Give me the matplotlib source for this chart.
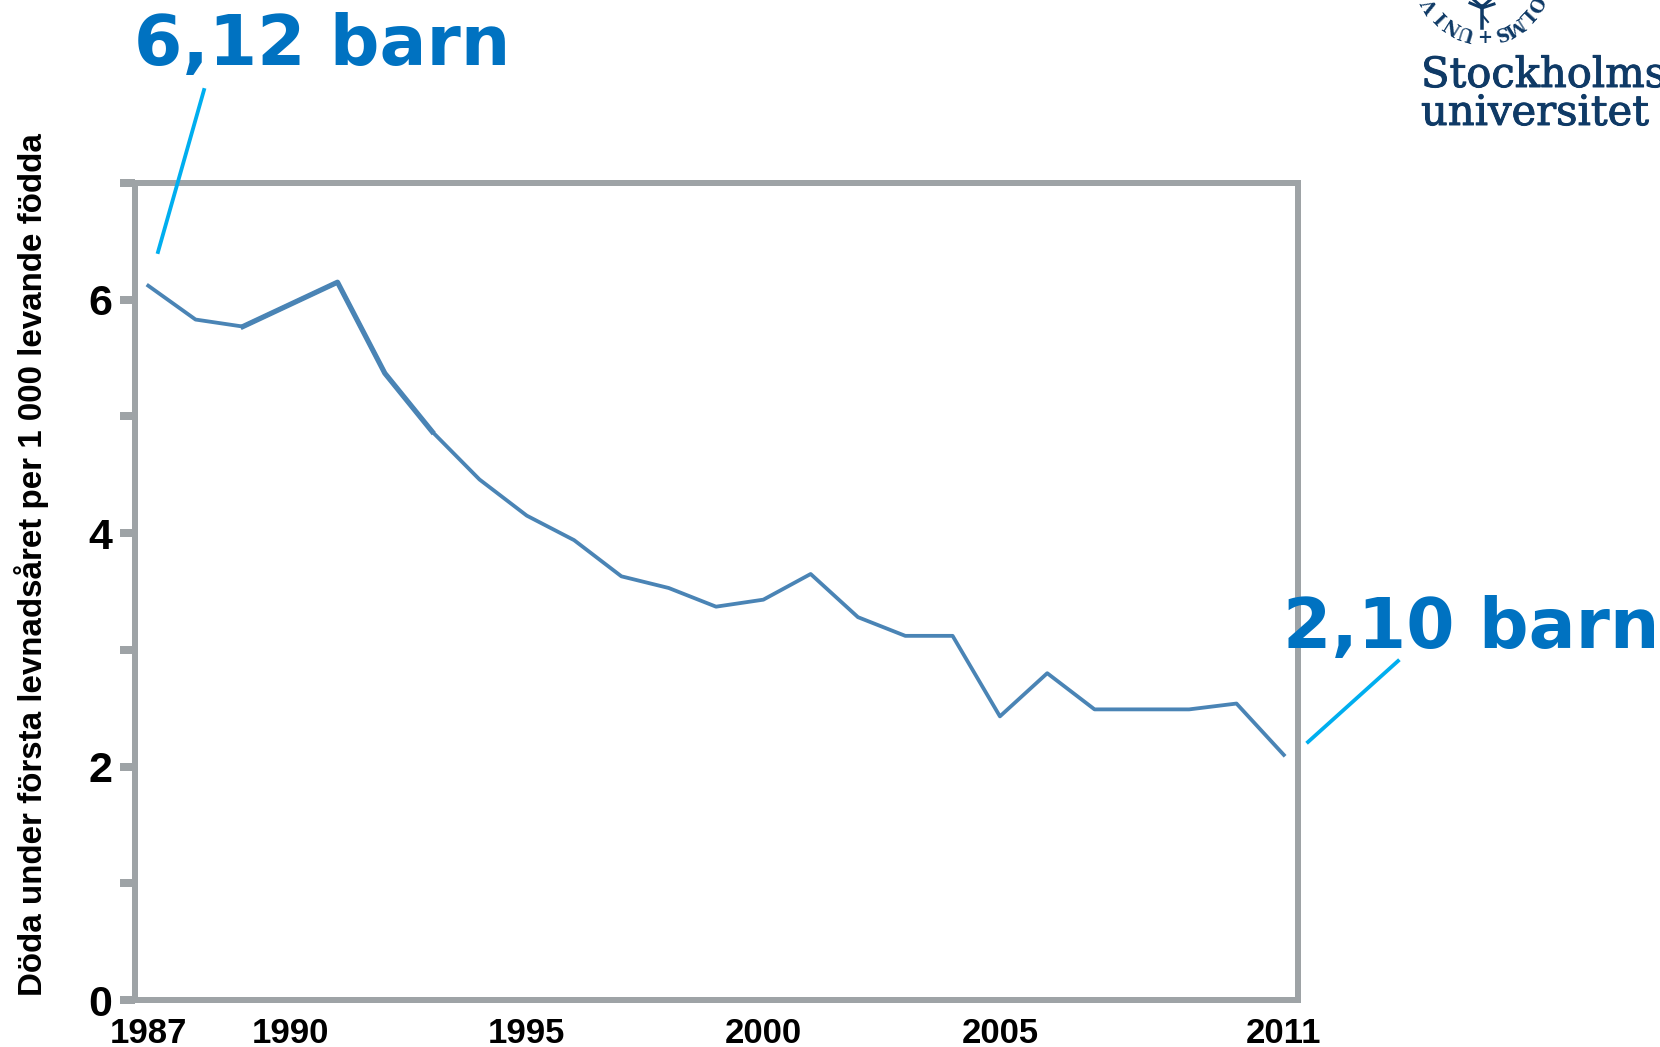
#!/usr/bin/env python3
# Spädbarnsdödlighet 1987-2011, Stockholms universitet
import numpy as np
import matplotlib
matplotlib.use("Agg")
import matplotlib.pyplot as plt
import matplotlib.patheffects as pe
from matplotlib.lines import Line2D

W, H = 1660, 1047

years = list(range(1987, 2012))
deaths = [6.12, 5.83, 5.77, 5.96, 6.15, 5.37, 4.87, 4.46, 4.15, 3.94, 3.63, 3.53, 3.37,
          3.43, 3.65, 3.28, 3.12, 3.12, 2.43, 2.80, 2.49, 2.49, 2.49, 2.54, 2.10]
xticks = [1987, 1990, 1995, 2000, 2005, 2011]
yticks = list(range(0, 8))
ylabels = ["0", "", "2", "", "4", "", "6", ""]
ylab = "Döda under första levnadsåret per 1 000 levande födda"
first_lab = "6,12 barn"
last_lab = "2,10 barn"

GREY = "#9ea3a6"
LINE = "#4a84b5"
CALL = "#0072c1"
CYAN = "#00aeef"
NAVY = "#0f3a66"

def fx(px): return px / W
def fy(py): return 1 - py / H   # py counted from top
def pt(px): return px * 0.72    # dpi 100

fig = plt.figure(figsize=(W / 100, H / 100), dpi=100)
ax = fig.add_axes([fx(135), fy(1000), fx(1298 - 135), (1000 - 183) / H])

ax.plot(years, deaths, color=LINE, lw=pt(3.8), solid_joinstyle="round")
ax.plot(years[2:7], deaths[2:7], color=LINE, lw=pt(5.2), solid_joinstyle="round")  # tjockare bit i originalet

ax.set_xlim(1986.72, 2011.3)
ax.set_ylim(0, 7)
ax.set_xticks(xticks)
ax.set_yticks(yticks, ylabels)
ax.tick_params(axis="x", length=0, pad=pt(17))
ax.tick_params(axis="y", length=pt(15), width=pt(8), color=GREY, pad=pt(8))
for lab in ax.get_xticklabels():
    lab.set(family="Liberation Sans", weight="bold", size=25)
for lab in ax.get_yticklabels():
    lab.set(family="Liberation Sans", weight="bold", size=31)
for s in ax.spines.values():
    s.set_color(GREY)
    s.set_linewidth(pt(6))

fig.text(fx(31.5), fy(565), ylab, rotation=90, ha="center", va="center",
         family="Liberation Sans", weight="bold", size=23.9)

# etiketter och streck
for txt, x0, y0 in ((first_lab, 134, 65), (last_lab, 1283, 648)):
    fig.text(fx(x0), fy(y0), txt, color=CALL, family="DejaVu Sans", weight="bold",
             size=50, ha="left", va="baseline")
for (x0, y0), (x1, y1) in (((158, 252), (204, 90)), ((1308, 742), (1398, 661))):
    fig.add_artist(Line2D([fx(x0), fx(x1)], [fy(y0), fy(y1)], color=CYAN, lw=pt(3.8)))

# logotyp
for txt, y0 in (("Stockholms", 87), ("universitet", 125)):
    t = fig.text(fx(1421), fy(y0), txt, color=NAVY, family="DejaVu Serif", size=30,
                 ha="left", va="baseline")
    t.set_path_effects([pe.withStroke(linewidth=0.7, foreground=NAVY)])
cx, cy, r = 1483, -24, 58
for ch, a in (("U", -17), ("N", -32), ("I", -46), ("V", -60), ("S", 17), ("M", 32), ("L", 47), ("O", 62), ("+", 0)):
    th = np.radians(a)
    fig.text(fx(cx + r * np.sin(th)), fy(cy + r * np.cos(th)), ch, color=NAVY, family="DejaVu Serif",
             weight="bold", size=13, rotation=180 + a, ha="center", va="center", rotation_mode="anchor")
# trädet i sigillet
for (x0, y0), (x1, y1), w in (((1482, 28), (1482, 6), 3.5), ((1482, 8), (1470, 3), 3), ((1482, 8), (1494, 4), 3),
                              ((1482, 7), (1474, 0), 3), ((1482, 7), (1490, 0), 3), ((1483, 16), (1488, 22), 2)):
    fig.add_artist(Line2D([fx(x0), fx(x1)], [fy(y0), fy(y1)], color=NAVY, lw=pt(w)))

fig.savefig("out.png", dpi=100)
